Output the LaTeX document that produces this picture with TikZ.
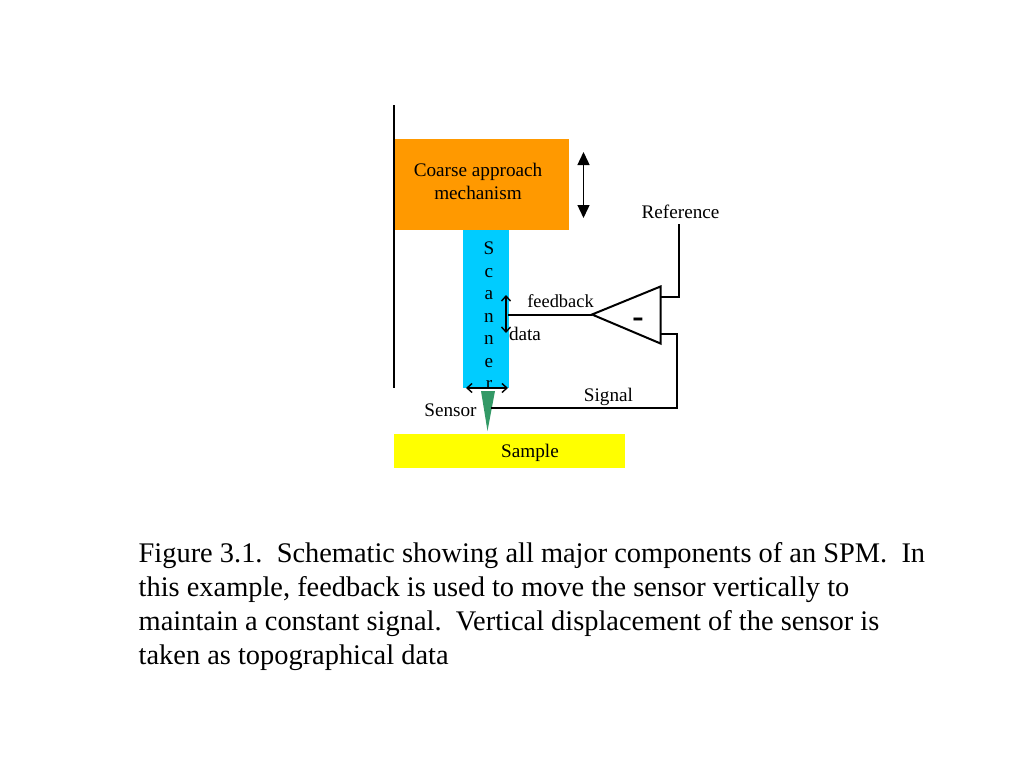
\documentclass[tikz,border=0pt]{standalone}
\usepackage{fontspec}
\setmainfont{Liberation Serif}
\usetikzlibrary{arrows.meta}
\definecolor{coarse}{HTML}{FF9900}
\definecolor{scan}{HTML}{00CCFF}
\definecolor{tipc}{HTML}{339966}
\definecolor{samplec}{HTML}{FFFF00}
\tikzset{
  lbl/.style={inner sep=0pt,anchor=base,font=\fontsize{19.2}{23}\selectfont,text=black},
  captionline/.style={inner sep=0pt,anchor=base west,font=\fontsize{28.4}{34}\selectfont},
  wire/.style={draw=black,line width=2pt},
  thin arrow/.style={draw=black,line width=1.4pt,{Straight Barb[length=5pt,width=9pt]}-{Straight Barb[length=5pt,width=9pt]}},
  big arrow/.style={draw=black,line width=1.4pt,{Triangle[length=13pt,width=12pt]}-{Triangle[length=13pt,width=12pt]}}
}
\begin{document}
\begin{tikzpicture}[x=1pt,y=-1pt]
\useasboundingbox (0,0) rectangle (1024,768);
\fill[white] (0,0) rectangle (1024,768);
% blocks
\node[fill=coarse,minimum width=174.5pt,minimum height=91pt,inner sep=0pt,anchor=north west] (coarseblock) at (394,139) {};
\node[fill=scan,minimum width=46pt,minimum height=158pt,inner sep=0pt,anchor=north west] (scanner) at (463,230) {};
\node[fill=samplec,minimum width=231pt,minimum height=34pt,inner sep=0pt,anchor=north west] (sample) at (394,434) {};
% wall
\coordinate (walltop) at (393.5,105);
\coordinate (wallbot) at (393.5,388);
\draw[wire] (walltop) -- (wallbot);
\node[lbl] (coarsetext1) at (478,176.5) {Coarse approach};
\node[lbl] (coarsetext2) at (478,199) {mechanism};
\foreach \c/\y in {S/254,c/277,a/299,n/322,n/344,e/367,r/389}{
  \node[lbl] at (489,\y) {\c};
}
\node[lbl] (samplelabel) at (530,457) {Sample};
\node[lbl] (sensorlabel) at (450.5,416) {Sensor};
\node[lbl] (signallabel) at (608.5,401.5) {Signal};
\node[lbl,font=\fontsize{18.4}{23}\selectfont] (feedbacklabel) at (560.5,307) {feedback};
\node[lbl] (datalabel) at (525,340) {data};
\node[lbl] (referencelabel) at (680.5,218.5) {Reference};
% sensor tip
\fill[tipc] (481,391) -- (495,391) -- (487.5,431) -- cycle;
% amplifier
\coordinate (ampout) at (592,314.5);
\coordinate (amptop) at (660.5,286.5);
\coordinate (ampbot) at (660.5,343.5);
\draw[wire,line join=miter] (ampout) -- (amptop) -- (ampbot) -- cycle;
\node[inner sep=0pt,anchor=base,font=\bfseries\fontsize{34}{38}\selectfont] (minus) at (638,327) {-};
% wires
\coordinate (refin) at (660.5,297);
\coordinate (reftop) at (678.5,224);
\draw[wire] (refin) -| (reftop);
\coordinate (sigin) at (660.5,334);
\coordinate (sigcorner) at (676.5,407.5);
\coordinate (sigend) at (491,407.5);
\draw[wire] (sigin) -| (sigcorner) -- (sigend);
\coordinate (fbend) at (508,314.5);
\draw[wire] (ampout) -- (fbend);
% arrows
\coordinate (bigtop) at (583.5,152);
\coordinate (bigbot) at (583.5,218);
\draw[big arrow] (bigtop) -- (bigbot);
\coordinate (dtop) at (506,295);
\coordinate (dbot) at (506,333);
\draw[thin arrow] (dtop) -- (dbot);
\coordinate (hleft) at (466,388);
\coordinate (hright) at (508,388);
\draw[thin arrow] (hleft) -- (hright);
% caption
\node[captionline] (cap1) at (138.5,562.5) {Figure 3.1.\ \ Schematic showing all major components of an SPM.\ \ In};
\node[captionline] (cap2) at (138.5,596.5) {this example, feedback is used to move the sensor vertically to};
\node[captionline] (cap3) at (138.5,630.5) {maintain a constant signal.\ \ Vertical displacement of the sensor is};
\node[captionline] (cap4) at (138.5,664.5) {taken as topographical data};
\end{tikzpicture}
\end{document}
